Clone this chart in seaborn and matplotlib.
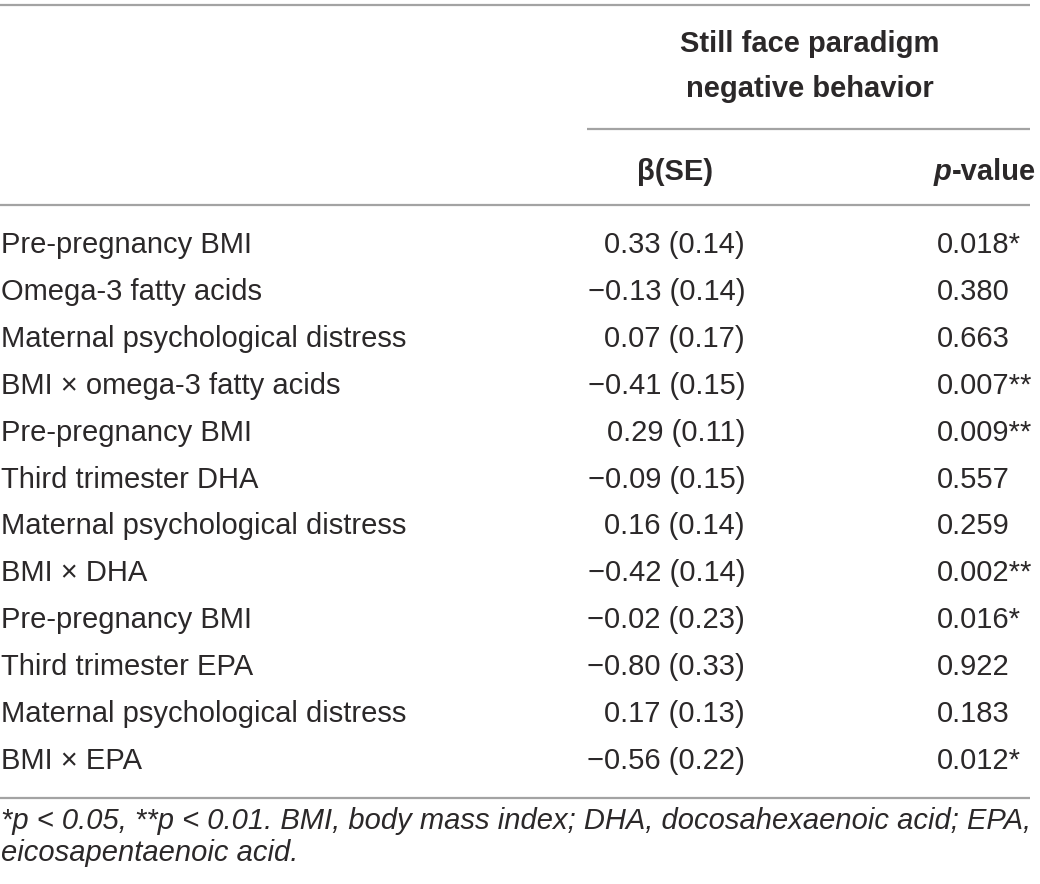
import matplotlib
matplotlib.use("Agg")
import matplotlib.pyplot as plt
import seaborn as sns

# table content
row_labels = [
    "Pre-pregnancy BMI", "Omega-3 fatty acids", "Maternal psychological distress",
    "BMI \u00d7 omega-3 fatty acids",
    "Pre-pregnancy BMI", "Third trimester DHA", "Maternal psychological distress",
    "BMI \u00d7 DHA",
    "Pre-pregnancy BMI", "Third trimester EPA", "Maternal psychological distress",
    "BMI \u00d7 EPA",
]
beta = [0.33, -0.13, 0.07, -0.41, 0.29, -0.09, 0.16, -0.42, -0.02, -0.80, 0.17, -0.56]
se = [0.14, 0.14, 0.17, 0.15, 0.11, 0.15, 0.14, 0.14, 0.23, 0.33, 0.13, 0.22]
p_values = [0.018, 0.380, 0.663, 0.007, 0.009, 0.557, 0.259, 0.002, 0.016, 0.922, 0.183, 0.012]
stars = ["*", "", "", "**", "**", "", "", "**", "*", "", "", "*"]

group_header = ["Still face paradigm", "negative behavior"]
footnote = ["*p < 0.05, **p < 0.01. BMI, body mass index; DHA, docosahexaenoic acid; EPA,",
            "eicosapentaenoic acid."]

sns.set_theme(style="white")
plt.rcParams["font.family"] = ["Liberation Sans", "DejaVu Sans"]

ink = "#2b2829"
rule = "#a3a3a3"
fs = 21

fig = plt.figure(figsize=(10.4, 8.84), dpi=100)
ax = fig.add_axes([0, 0, 1, 1])
ax.set_xlim(0, 1040)
ax.set_ylim(884, 0)
ax.axis("off")

# rules
ax.hlines([5, 205, 798], 0, 1030, color=rule, lw=1.6)
ax.hlines(129, 587, 1030, color=rule, lw=1.6)

# header
ax.text(810, 44, group_header[0], ha="center", va="center", fontsize=fs,
        fontweight="bold", color=ink)
ax.text(810, 89, group_header[1], ha="center", va="center", fontsize=fs,
        fontweight="bold", color=ink)
ax.text(675, 172, "\u03b2(SE)", ha="center", va="center", fontsize=fs,
        fontweight="bold", color=ink)
t = ax.text(1036, 172, "-value", ha="right", va="center", fontsize=fs,
            fontweight="bold", color=ink)
fig.canvas.draw()
bb = t.get_window_extent().transformed(ax.transData.inverted())
ax.text(min(bb.x0, bb.x1), 172, "p", ha="right", va="center", fontsize=fs,
        fontweight="bold", style="italic", color=ink)

# body rows
row0, step = 245, 46.9
for i, lab in enumerate(row_labels):
    y = row0 + i * step
    ax.text(1, y, lab, ha="left", va="center", fontsize=fs, color=ink)
    b = f"{beta[i]:.2f}".replace("-", "\u2212")
    ax.text(745, y, f"{b} ({se[i]:.2f})", ha="right", va="center", fontsize=fs, color=ink)
    ax.text(937, y, f"{p_values[i]:.3f}{stars[i]}", ha="left", va="center",
            fontsize=fs, color=ink)

# footnote
ax.text(1, 821, footnote[0], ha="left", va="center", fontsize=fs, style="italic", color=ink)
ax.text(1, 853, footnote[1], ha="left", va="center", fontsize=fs, style="italic", color=ink)

fig.savefig("out.png", dpi=100, facecolor="white")
